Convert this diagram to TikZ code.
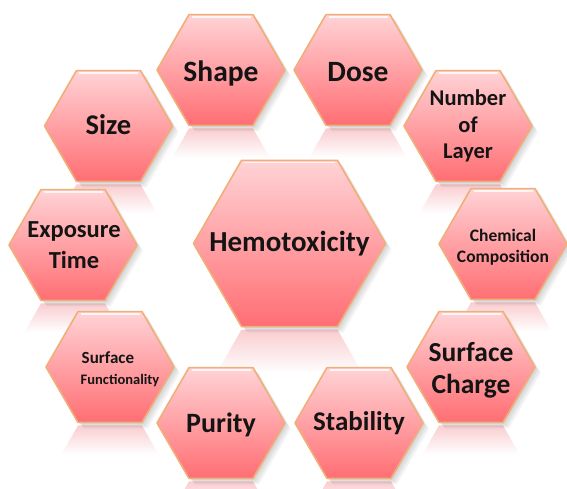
\documentclass[tikz,border=0pt]{standalone}
\usepackage{fontspec}
\setmainfont{Carlito}
\definecolor{hexbot}{HTML}{FF6E73}
\definecolor{hexmid}{HTML}{FF9CA0}
\definecolor{hextop}{HTML}{FFD3D6}
\definecolor{hexedge}{HTML}{F0AE78}
\definecolor{hexrefl}{HTML}{F9CDD0}
\definecolor{txt}{HTML}{141414}
% reflection below a hexagon: x y r
\newcommand\hexrefl[3]{%
  \shade[top color=hexrefl, bottom color=white]
    ({#1-0.5*#3},{#2+0.866*#3+3}) -- ({#1+0.5*#3},{#2+0.866*#3+3})
    -- ({#1+0.5*#3+0.26*#3},{#2+1.32*#3+3}) -- ({#1-0.5*#3-0.26*#3},{#2+1.32*#3+3}) -- cycle;}
% hexagon: [node options] name x y r fontsize skip text
\newcommand\hexa[8][]{%
  \foreach \d in {1.5,3,4.5,6}{%
    \fill[black, opacity=0.045]
      ({#3-#5+\d},{#4+\d}) -- ({#3-0.5*#5+\d},{#4-0.866*#5+\d}) -- ({#3+0.5*#5+\d},{#4-0.866*#5+\d})
      -- ({#3+#5+\d},{#4+\d}) -- ({#3+0.5*#5+\d},{#4+0.866*#5+\d}) -- ({#3-0.5*#5+\d},{#4+0.866*#5+\d}) -- cycle;}
  \path[hexfill]
      ({#3-#5},{#4}) -- ({#3-0.5*#5},{#4-0.866*#5}) -- ({#3+0.5*#5},{#4-0.866*#5})
      -- ({#3+#5},{#4}) -- ({#3+0.5*#5},{#4+0.866*#5}) -- ({#3-0.5*#5},{#4+0.866*#5}) -- cycle;
  \draw[white, line width=1.2pt, opacity=0.8]
      ({#3-0.5*#5+2.5},{#4-0.866*#5+2.5}) -- ({#3+0.5*#5-2.5},{#4-0.866*#5+2.5});
  \node[hexlabel, font=\bfseries\fontsize{#6}{#7}\selectfont, #1] (#2) at (#3,#4) {#8};}
\tikzset{
  hexfill/.style={draw=hexedge, line width=1.6pt, line join=round,
    top color=hextop, middle color=hexmid, bottom color=hexbot},
  hexlabel/.style={align=center, text=txt, inner sep=0pt}
}
\begin{document}
\begin{tikzpicture}[x=1pt,y=-1pt]
\useasboundingbox (0,0) rectangle (567,489);
\fill[white] (0,0) rectangle (567,489);
% reflections
\hexrefl{221}{70}{64}
\hexrefl{358}{70}{64}
\hexrefl{108.5}{126}{64}
\hexrefl{468}{126}{64}
\hexrefl{73}{245}{64}
\hexrefl{503}{244}{64}
\hexrefl{110}{367}{64}
\hexrefl{471}{367}{64}
\hexrefl{221}{423}{64}
\hexrefl{359}{423}{64}
\hexrefl{289.5}{243.5}{96}
% hexagons
\hexa[yshift=-3pt]{shape}{221}{70}{64}{29.5}{31}{Shape}
\hexa[yshift=-2pt]{dose}{358}{70}{64}{29.5}{31}{Dose}
\hexa[yshift=1pt]{size}{108.5}{126}{64}{28.5}{31}{Size}
\hexa{layer}{468}{126}{64}{22.5}{26.5}{Number\\of\\Layer}
\hexa[xshift=1pt]{exposure}{73}{245}{64}{24.5}{31}{Exposure\\Time}
\hexa[yshift=-3pt]{chem}{503}{244}{64}{17.5}{21}{Chemical\\Composition}
\hexa[align=left, xshift=10pt, yshift=-2pt]{surffunc}{110}{367}{64}{14.5}{21}{\hspace*{1pt}{\fontsize{17}{21}\selectfont Surface}\\Functionality}
\hexa[yshift=-3pt]{surfcharge}{471}{367}{64}{27.5}{32}{Surface\\Charge}
\hexa[yshift=-2pt]{purity}{221}{423}{64}{28}{31}{Purity}
\hexa{stability}{359}{423}{64}{27}{31}{Stability}
\hexa{hemo}{289.5}{243.5}{96}{29}{31}{Hemotoxicity}
\end{tikzpicture}
\end{document}
